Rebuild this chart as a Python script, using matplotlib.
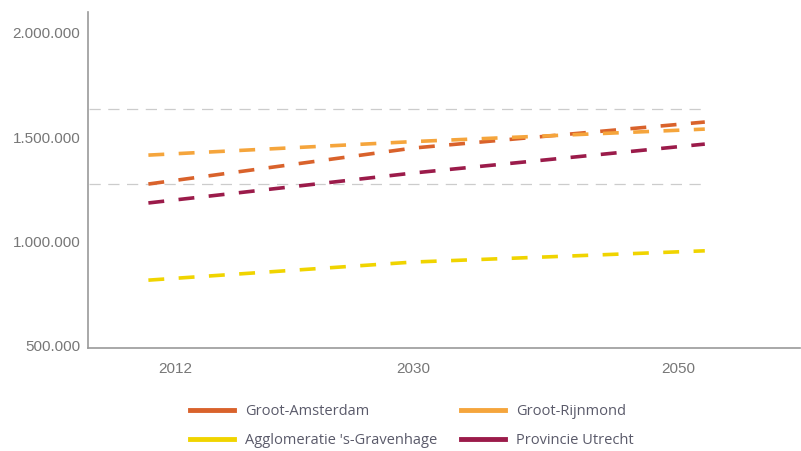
import matplotlib
matplotlib.use("Agg")
import matplotlib.pyplot as plt
from matplotlib.ticker import FuncFormatter

years = [2010, 2030, 2052]
groot_amsterdam = [1274000, 1447000, 1572000]
groot_rijnmond = [1413000, 1478000, 1538000]
agglomeratie_denhaag = [812000, 899000, 953000]
provincie_utrecht = [1183000, 1327000, 1466000]

series = [
    ("Groot-Amsterdam", groot_amsterdam, "#d9622b"),
    ("Agglomeratie 's-Gravenhage", agglomeratie_denhaag, "#f0d400"),
    ("Groot-Rijnmond", groot_rijnmond, "#f5a53c"),
    ("Provincie Utrecht", provincie_utrecht, "#9b1b4a"),
]

grid_levels = [1635000, 1274000]
tick_years = [2012, 2030, 2050]
tick_values = [500000, 1000000, 1500000, 2000000]

plt.rcParams['font.family'] = ['Liberation Sans', 'DejaVu Sans']

fig = plt.figure(figsize=(8.01, 4.51), dpi=100)
ax = fig.add_axes([0.110, 0.228, 0.889, 0.745])

for y in grid_levels:
    ax.plot([2005.5, 2052.2], [y, y], color="#cccccc", lw=0.9,
            dashes=(9, 6), zorder=1)

for name, vals, color in series:
    ax.plot(years, vals, color=color, lw=2.6, dashes=(4.4, 4.0),
            solid_capstyle='butt', zorder=3)

ax.set_xlim(2005.45, 2059.2)
ax.set_ylim(485000, 2100000)
ax.set_xticks(tick_years)
ax.set_yticks(tick_values)
ax.yaxis.set_major_formatter(FuncFormatter(lambda v, p: f"{int(v):,}".replace(",", ".")))
ax.tick_params(length=0, labelsize=11, colors="#777777")
ax.tick_params(axis='y', pad=5.5)
ax.tick_params(axis='x', pad=10)
for s in ["top", "right"]:
    ax.spines[s].set_visible(False)
for s in ["left", "bottom"]:
    ax.spines[s].set_color("#9a9a9a")
    ax.spines[s].set_linewidth(1.2)

handles = [plt.Line2D([], [], color=c, lw=3.5) for _, _, c in series]
labels = [n for n, _, _ in series]
fig.legend(handles, labels, ncol=2, frameon=False, loc="upper left",
           bbox_to_anchor=(0.237, 0.105), labelcolor="#5a5a6a",
           handlelength=3.0, handletextpad=0.8, columnspacing=1.6,
           labelspacing=1.0, borderaxespad=0, borderpad=0,
           prop={'family': ['Open Sans', 'DejaVu Sans'], 'size': 10.5})

fig.savefig("out.png", dpi=100)
